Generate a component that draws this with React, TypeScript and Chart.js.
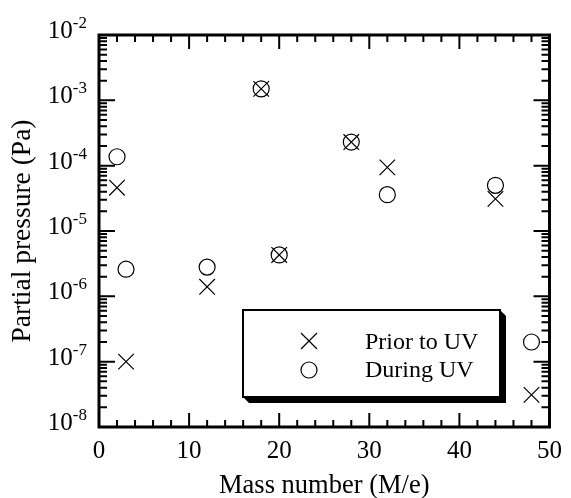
import React, { useEffect, useRef } from 'react';
import { Chart, registerables } from 'chart.js';

Chart.register(...registerables);

// ---- data ----
const massNumbers = [2, 3, 12, 18, 20, 28, 32, 44, 48];
const priorToUV = [4.6e-5, 1.0e-7, 1.4e-6, 1.5e-3, 4.3e-6, 2.3e-4, 9.4e-5, 3.1e-5, 3.1e-8];
const duringUV = [1.37e-4, 2.6e-6, 2.8e-6, 1.5e-3, 4.3e-6, 2.3e-4, 3.6e-5, 5.0e-5, 2.0e-7];
const seriesLabels = ['Prior to UV', 'During UV'];
const xTickValues = [0, 10, 20, 30, 40, 50];
const xMinorStep = 2;
const yTickExponents = [-8, -7, -6, -5, -4, -3, -2];
const xTitle = 'Mass number (M/e)';
const yTitle = 'Partial pressure (Pa)';

const FONT = '"Liberation Serif", "Times New Roman", serif';

function drawCross(ctx: CanvasRenderingContext2D, x: number, y: number, h: number) {
  ctx.beginPath();
  ctx.moveTo(x - h, y - h);
  ctx.lineTo(x + h, y + h);
  ctx.moveTo(x + h, y - h);
  ctx.lineTo(x - h, y + h);
  ctx.stroke();
}

const framePlugin = {
  id: 'framePlugin',
  afterDraw(chart: any) {
    const ctx: CanvasRenderingContext2D = chart.ctx;
    const { left, right, top, bottom } = chart.chartArea;
    const xs = chart.scales.x;
    const ys = chart.scales.y;
    ctx.save();
    ctx.strokeStyle = '#000';
    ctx.fillStyle = '#000';
    ctx.lineCap = 'butt';

    // ticks
    ctx.lineWidth = 2;
    const xMajorLen = 14, xMinorLen = 7, yMajorLen = 16, yMinorLen = 8;
    const xMin = xTickValues[0], xMax = xTickValues[xTickValues.length - 1];
    for (let v = xMin; v <= xMax + 1e-9; v += xMinorStep) {
      const px = xs.getPixelForValue(v);
      const major = xTickValues.includes(v);
      const len = major ? xMajorLen : xMinorLen;
      ctx.beginPath();
      ctx.moveTo(px, bottom);
      ctx.lineTo(px, bottom - len);
      ctx.moveTo(px, top);
      ctx.lineTo(px, top + len);
      ctx.stroke();
    }
    for (let i = 0; i < yTickExponents.length; i++) {
      const e = yTickExponents[i];
      const base = Math.pow(10, e);
      const py = ys.getPixelForValue(base);
      ctx.beginPath();
      ctx.moveTo(left, py);
      ctx.lineTo(left + yMajorLen, py);
      ctx.moveTo(right, py);
      ctx.lineTo(right - yMajorLen, py);
      ctx.stroke();
      if (i < yTickExponents.length - 1) {
        for (let m = 2; m <= 9; m++) {
          const my = ys.getPixelForValue(m * base);
          ctx.beginPath();
          ctx.moveTo(left, my);
          ctx.lineTo(left + yMinorLen, my);
          ctx.moveTo(right, my);
          ctx.lineTo(right - yMinorLen, my);
          ctx.stroke();
        }
      }
    }

    // frame
    ctx.lineWidth = 3;
    ctx.strokeRect(left, top, right - left, bottom - top);

    // y tick labels 10^e
    for (const e of yTickExponents) {
      const py = ys.getPixelForValue(Math.pow(10, e));
      const sup = String(e);
      ctx.font = `17px ${FONT}`;
      const supW = ctx.measureText(sup).width;
      const rightEdge = left - 12;
      const supX = rightEdge - supW;
      ctx.textAlign = 'left';
      ctx.textBaseline = 'alphabetic';
      ctx.fillText(sup, supX, py - 7);
      ctx.font = `25px ${FONT}`;
      ctx.textAlign = 'right';
      ctx.fillText('10', supX, py + 3);
    }

    // legend
    const bx = 243, by = 310, bw = 257, bh = 87, sh = 6;
    ctx.beginPath();
    ctx.moveTo(bx, by + bh);
    ctx.lineTo(bx + sh, by + bh + sh);
    ctx.lineTo(bx + bw + sh, by + bh + sh);
    ctx.lineTo(bx + bw + sh, by + sh);
    ctx.lineTo(bx + bw, by);
    ctx.closePath();
    ctx.fill();
    ctx.fillStyle = '#fff';
    ctx.fillRect(bx, by, bw, bh);
    ctx.lineWidth = 2;
    ctx.strokeRect(bx, by, bw, bh);

    ctx.lineWidth = 1.2;
    drawCross(ctx, 309, 341, 8);
    ctx.beginPath();
    ctx.arc(309, 370, 8, 0, Math.PI * 2);
    ctx.stroke();

    ctx.fillStyle = '#000';
    ctx.font = `24px ${FONT}`;
    ctx.textAlign = 'left';
    ctx.textBaseline = 'alphabetic';
    ctx.fillText(chart.data.datasets[0].label, 365, 349);
    ctx.fillText(chart.data.datasets[1].label, 365, 377);
    ctx.restore();
  },
};

export default function App() {
  const ref = useRef<HTMLCanvasElement | null>(null);
  useEffect(() => {
    if (!ref.current) return;
    const chart = new Chart(ref.current, {
      type: 'scatter',
      data: {
        datasets: [
          {
            label: seriesLabels[0],
            data: massNumbers.map((m, i) => ({ x: m, y: priorToUV[i] })),
            pointStyle: 'crossRot',
            pointRadius: 11,
            pointHoverRadius: 11,
            borderColor: '#000',
            backgroundColor: 'transparent',
            borderWidth: 1.2,
          },
          {
            label: seriesLabels[1],
            data: massNumbers.map((m, i) => ({ x: m, y: duringUV[i] })),
            pointStyle: 'circle',
            pointRadius: 8,
            pointHoverRadius: 8,
            borderColor: '#000',
            backgroundColor: 'transparent',
            borderWidth: 1.2,
          },
        ],
      },
      options: {
        animation: false,
        responsive: true,
        maintainAspectRatio: false,
        layout: { padding: { left: 0, right: 17, top: 35, bottom: 0 } },
        plugins: { legend: { display: false }, tooltip: { enabled: false } },
        scales: {
          x: {
            type: 'linear',
            min: 0,
            max: 50,
            grid: { display: false, drawTicks: false },
            border: { display: false },
            afterBuildTicks: (s: any) => {
              s.ticks = xTickValues.map((v) => ({ value: v }));
            },
            ticks: {
              color: '#000',
              font: { family: FONT, size: 25 },
              padding: 9,
              maxRotation: 0,
              autoSkip: false,
            },
            title: {
              display: true,
              text: xTitle,
              color: '#000',
              font: { family: FONT, size: 26.5, lineHeight: 1 },
              padding: { top: 0, bottom: -1 },
            },
            afterFit: (s: any) => {
              s.height = 71;
            },
          },
          y: {
            type: 'logarithmic',
            min: 1e-8,
            max: 1e-2,
            grid: { display: false, drawTicks: false },
            border: { display: false },
            ticks: { display: false },
            title: {
              display: true,
              text: yTitle,
              color: '#000',
              font: { family: FONT, size: 27.5, lineHeight: 1 },
              padding: { top: 9, bottom: 0 },
            },
            afterFit: (s: any) => {
              s.width = 99;
            },
          },
        },
      },
      plugins: [framePlugin],
    });
    return () => chart.destroy();
  }, []);
  return (
    <div style={{ position: 'absolute', left: 0, top: 0, width: 571, height: 498, background: '#fff' }}>
      <canvas ref={ref} />
    </div>
  );
}
